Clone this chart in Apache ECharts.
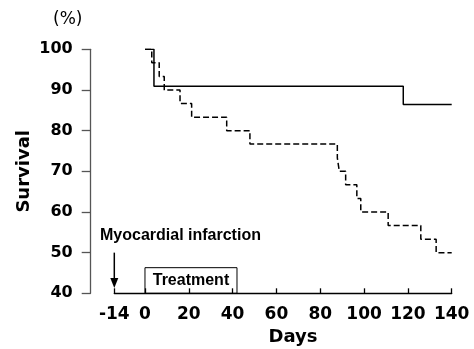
<!DOCTYPE html>
<html>
<head>
<meta charset="utf-8">
<script src="https://cdn.jsdelivr.net/npm/echarts@6/dist/echarts.min.js"></script>
<style>html,body{margin:0;padding:0;background:#fff}#c{width:474px;height:349px}</style>
</head>
<body>
<div id="c"></div>
<script>
// Data
const xTicks = [-14, 0, 20, 40, 60, 80, 100, 120, 140];
const yTicks = [40, 50, 60, 70, 80, 90, 100];
const treatedDays = [0, 4.1, 117.9, 140];
const treatedSurvival = [100, 90.9, 86.4, 86.4];
const controlDays = [0, 3.1, 6.5, 8.8, 16, 21.3, 37.3, 47.9, 87.8, 88.7, 91.6, 96.7, 98.5, 111, 125.9, 132.9, 140];
const controlSurvival = [100, 96.7, 93.3, 90, 86.7, 83.3, 80, 76.7, 73.3, 70, 66.7, 63.3, 60, 56.7, 53.3, 50, 50];
const infarctionDay = -14;
const treatmentStart = 0;
const treatmentEnd = 42;

const zip = (a, b) => a.map((v, i) => [v, b[i]]);
const tickFont = {fontFamily: 'DejaVu Sans', fontWeight: 'bold', color: '#000'};

const chart = echarts.init(document.getElementById('c'), null, {renderer: 'canvas'});
chart.setOption({
  animation: false,
  backgroundColor: '#fff',
  grid: {left: 114.3, right: 22.3, top: 49.3, bottom: 55.7, containLabel: false, outerBoundsMode: 'none'},
  xAxis: {
    type: 'value', min: -14, max: 140,
    name: 'Days', nameLocation: 'middle', nameGap: 35, nameMoveOverlap: false,
    nameTextStyle: {fontFamily: 'DejaVu Sans', fontWeight: 'bold', fontSize: 18, color: '#000', padding: [0, 0, 0, 20]},
    axisLine: {show: true, onZero: false, lineStyle: {color: '#000', width: 1.3}},
    axisTick: {show: true, inside: true, length: 5, customValues: xTicks, lineStyle: {color: '#000', width: 1.3}},
    axisLabel: Object.assign({customValues: xTicks, fontSize: 17, margin: 13}, tickFont),
    splitLine: {show: false}
  },
  yAxis: {
    type: 'value', min: 40, max: 100, interval: 10, offset: 23.6,
    name: 'Survival', nameLocation: 'middle', nameGap: 57, nameRotate: 90, nameMoveOverlap: false,
    nameTextStyle: {fontFamily: 'DejaVu Sans', fontWeight: 'bold', fontSize: 18, color: '#000'},
    axisLine: {show: true, onZero: false, lineStyle: {color: '#555', width: 1.3}},
    axisTick: {show: true, inside: false, length: 9, lineStyle: {color: '#555', width: 1.3}},
    axisLabel: Object.assign({fontSize: 16, margin: 18}, tickFont),
    splitLine: {show: false}
  },
  series: [
    {
      type: 'line', step: 'end', symbol: 'none',
      data: zip(treatedDays, treatedSurvival),
      lineStyle: {color: '#000', width: 1.5, type: 'solid'}
    },
    {
      type: 'line', step: 'end', symbol: 'none',
      data: zip(controlDays, controlSurvival),
      lineStyle: {color: '#000', width: 1.5, type: [6, 3]}
    }
  ]
});

// Annotations placed through the axes' own scales
const px = v => chart.convertToPixel({xAxisIndex: 0}, v);
const py = v => chart.convertToPixel({yAxisIndex: 0}, v);
const ax = px(infarctionDay);
const arrowTop = py(50), arrowTip = py(41.3);
const bx0 = px(treatmentStart), bx1 = px(treatmentEnd);
const by0 = py(46.3), by1 = py(40);
chart.setOption({
  graphic: [
    {type: 'text', left: 53, top: 11, style: {text: '(%)', fontFamily: 'DejaVu Sans', fontSize: 17, fill: '#000'}},
    {type: 'text', left: 100, top: 228, style: {text: 'Myocardial infarction', fontFamily: 'Liberation Sans', fontWeight: 'bold', fontSize: 16, fill: '#000'}},
    {type: 'line', shape: {x1: ax, y1: arrowTop, x2: ax, y2: arrowTip - 8}, style: {stroke: '#000', lineWidth: 1.5}},
    {type: 'polygon', shape: {points: [[ax - 4, arrowTip - 10], [ax + 4, arrowTip - 10], [ax, arrowTip]]}, style: {fill: '#000'}},
    {type: 'rect', shape: {x: bx0, y: by0, width: bx1 - bx0, height: by1 - by0}, style: {fill: 'none', stroke: '#000', lineWidth: 1}},
    {type: 'text', x: (bx0 + bx1) / 2, y: (by0 + by1) / 2, style: {text: 'Treatment', fontFamily: 'Liberation Sans', fontWeight: 'bold', fontSize: 16, fill: '#000', align: 'center', verticalAlign: 'middle'}}
  ]
});
</script>
</body>
</html>
